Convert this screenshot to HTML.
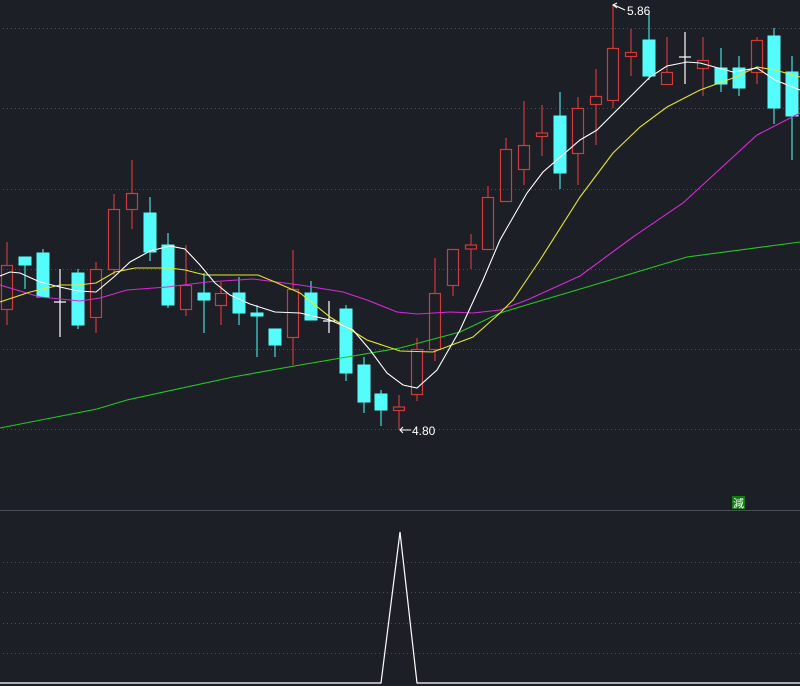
<!DOCTYPE html>
<html><head><meta charset="utf-8"><style>
html,body{margin:0;padding:0;background:#1d1f26;}
svg{display:block}
</style></head><body>
<svg width="800" height="686" viewBox="0 0 800 686" xmlns="http://www.w3.org/2000/svg">
<rect width="800" height="686" fill="#1d1f26"/>
<g stroke="#4a4d55" stroke-width="1" stroke-dasharray="1,3">
<line x1="3" y1="28.5" x2="800" y2="28.5"/>
<line x1="3" y1="108.5" x2="800" y2="108.5"/>
<line x1="3" y1="189.5" x2="800" y2="189.5"/>
<line x1="3" y1="269.5" x2="800" y2="269.5"/>
<line x1="3" y1="349.5" x2="800" y2="349.5"/>
<line x1="3" y1="429.5" x2="800" y2="429.5"/>
<line x1="3" y1="562.5" x2="800" y2="562.5"/>
<line x1="3" y1="592.5" x2="800" y2="592.5"/>
<line x1="3" y1="623.5" x2="800" y2="623.5"/>
<line x1="3" y1="653.5" x2="800" y2="653.5"/>
</g>
<line x1="0" y1="510.5" x2="800" y2="510.5" stroke="#4a4d55" stroke-width="1"/>

<!-- cyan candles -->
<g fill="#54fcfc" stroke="#54fcfc" stroke-width="1">
<line x1="25" y1="257" x2="25" y2="289"/><rect x="19" y="257" width="12" height="8"/>
<line x1="43" y1="249" x2="43" y2="297"/><rect x="37" y="253" width="12" height="44"/>
<line x1="78" y1="269" x2="78" y2="329"/><rect x="72" y="273" width="12" height="52"/>
<line x1="150" y1="197" x2="150" y2="261"/><rect x="144" y="213" width="12" height="39"/>
<line x1="168" y1="233" x2="168" y2="308"/><rect x="162" y="245" width="12" height="60"/>
<line x1="204" y1="273" x2="204" y2="333"/><rect x="198" y="293" width="12" height="7"/>
<line x1="239" y1="277" x2="239" y2="325"/><rect x="233" y="293" width="12" height="20"/>
<line x1="257" y1="305" x2="257" y2="357"/><rect x="251" y="313" width="12" height="3"/>
<line x1="275" y1="329" x2="275" y2="357"/><rect x="269" y="329" width="12" height="16"/>
<line x1="311" y1="281" x2="311" y2="320"/><rect x="305" y="293" width="12" height="27"/>
<line x1="346" y1="305" x2="346" y2="381"/><rect x="340" y="309" width="12" height="64"/>
<line x1="364" y1="357" x2="364" y2="413"/><rect x="358" y="365" width="12" height="37"/>
<line x1="381" y1="390" x2="381" y2="426"/><rect x="375" y="394" width="12" height="16"/>
<line x1="560" y1="92" x2="560" y2="189"/><rect x="554" y="116" width="12" height="57"/>
<line x1="649" y1="13" x2="649" y2="80"/><rect x="643" y="40" width="12" height="36"/>
<line x1="721" y1="48" x2="721" y2="92"/><rect x="715" y="68" width="12" height="16"/>
<line x1="739" y1="56" x2="739" y2="96"/><rect x="733" y="68" width="12" height="20"/>
<line x1="774" y1="28" x2="774" y2="124"/><rect x="768" y="36" width="12" height="72"/>
<line x1="792" y1="56" x2="792" y2="160"/><rect x="786" y="72" width="12" height="44"/>
</g>
<!-- red candles -->
<g fill="none" stroke="#d03a3a" stroke-width="1.2">
<line x1="7" y1="242" x2="7" y2="265"/><line x1="7" y1="309" x2="7" y2="325"/><rect x="1.5" y="265.5" width="11" height="44"/>
<line x1="96" y1="262" x2="96" y2="269"/><line x1="96" y1="317" x2="96" y2="333"/><rect x="90.5" y="269.5" width="11" height="48"/>
<line x1="114" y1="194" x2="114" y2="209"/><line x1="114" y1="269" x2="114" y2="275"/><rect x="108.5" y="209.5" width="11" height="60"/>
<line x1="132" y1="160" x2="132" y2="193"/><line x1="132" y1="209" x2="132" y2="229"/><rect x="126.5" y="193.5" width="11" height="16"/>
<line x1="186" y1="245" x2="186" y2="285"/><line x1="186" y1="309" x2="186" y2="316"/><rect x="180.5" y="285.5" width="11" height="24"/>
<line x1="221" y1="282" x2="221" y2="293"/><line x1="221" y1="305" x2="221" y2="325"/><rect x="215.5" y="293.5" width="11" height="12"/>
<line x1="293" y1="250" x2="293" y2="289"/><line x1="293" y1="337" x2="293" y2="365"/><rect x="287.5" y="289.5" width="11" height="48"/>
<line x1="399" y1="395" x2="399" y2="407"/><line x1="399" y1="410" x2="399" y2="430"/><rect x="393.5" y="407" width="11" height="3.5"/>
<line x1="417" y1="338" x2="417" y2="349"/><line x1="417" y1="394" x2="417" y2="401"/><rect x="411.5" y="349.5" width="11" height="45"/>
<line x1="435" y1="258" x2="435" y2="293"/><line x1="435" y1="349" x2="435" y2="361"/><rect x="429.5" y="293.5" width="11" height="56"/>
<line x1="453" y1="249" x2="453" y2="249"/><line x1="453" y1="285" x2="453" y2="296"/><rect x="447.5" y="249.5" width="11" height="36"/>
<line x1="471" y1="234" x2="471" y2="245"/><line x1="471" y1="249" x2="471" y2="269"/><rect x="465.5" y="245" width="11" height="4"/>
<line x1="488" y1="186" x2="488" y2="197"/><rect x="482.5" y="197.5" width="11" height="52"/>
<line x1="506" y1="138" x2="506" y2="149"/><line x1="506" y1="201" x2="506" y2="201"/><rect x="500.5" y="149.5" width="11" height="52"/>
<line x1="524" y1="101" x2="524" y2="145"/><line x1="524" y1="169" x2="524" y2="185"/><rect x="518.5" y="145.5" width="11" height="24"/>
<line x1="542" y1="105" x2="542" y2="133"/><line x1="542" y1="136" x2="542" y2="156"/><rect x="536.5" y="133" width="11" height="3.5"/>
<line x1="578" y1="97" x2="578" y2="108"/><line x1="578" y1="153" x2="578" y2="185"/><rect x="572.5" y="108.5" width="11" height="45"/>
<line x1="596" y1="69" x2="596" y2="96"/><line x1="596" y1="104" x2="596" y2="145"/><rect x="590.5" y="96.5" width="11" height="8"/>
<line x1="613" y1="5" x2="613" y2="48"/><line x1="613" y1="100" x2="613" y2="108"/><rect x="607.5" y="48.5" width="11" height="52"/>
<line x1="631" y1="29" x2="631" y2="52"/><line x1="631" y1="56" x2="631" y2="76"/><rect x="625.5" y="52.5" width="11" height="4"/>
<line x1="667" y1="37" x2="667" y2="72"/><rect x="661.5" y="72.5" width="11" height="12"/>
<line x1="703" y1="37" x2="703" y2="60"/><line x1="703" y1="68" x2="703" y2="96"/><rect x="697.5" y="60.5" width="11" height="8"/>
<line x1="757" y1="37" x2="757" y2="40"/><line x1="757" y1="72" x2="757" y2="84"/><rect x="751.5" y="40.5" width="11" height="32"/>
</g>
<!-- doji crosses -->
<g stroke="#ffffff" stroke-width="1.2">
<line x1="60" y1="269" x2="60" y2="337"/><line x1="54" y1="302" x2="66" y2="302"/>
<line x1="329" y1="301" x2="329" y2="333"/><line x1="323" y1="321" x2="335" y2="321"/>
<line x1="685" y1="32" x2="685" y2="84"/><line x1="679" y1="57" x2="691" y2="57"/>
</g>
<!-- MAs -->
<g fill="none" stroke-width="1.1">
<polyline stroke="#22c922" points="0,428 97,409 127,400 233,377 300,365 400,348 460,332 500,313 543,300 587,287 687,257 800,242"/>
<polyline stroke="#d62ad6" points="0,285 40,297 80,301 100,298 127,290 167,287 207,282 253,279 300,285 343,292 367,300 397,312 417,314 450,312 473,313 500,310 527,300 580,276 633,237 683,203 757,135 800,113"/>
<polyline stroke="#e6e62a" points="0,302 30,292 60,285 78,285 96,283 115,272 135,268 170,268 185,270 205,275 258,275 275,282 300,293 330,317 367,340 400,351 433,352 457,343 473,337 500,313 513,300 540,260 580,197 613,153 640,127 667,107 700,90 733,78 757,67 775,70 800,77"/>
<polyline stroke="#ffffff" points="0,276 10,272 20,273 40,282 60,287 78,291 96,292 115,276 130,262 150,251 170,246 185,249 200,265 215,283 230,295 250,304 275,312 300,313 330,320 353,330 370,350 387,373 403,385 417,388 437,370 460,330 483,280 500,240 527,193 543,172 580,140 597,130 617,110 650,77 667,66 687,62 700,63 733,72 757,68 775,80 800,90"/>
</g>
<!-- labels -->
<g stroke="#ffffff" stroke-width="1" fill="none">
<polyline points="614,5 625,10"/><polyline points="617,3 613,5 617,8"/>
<polyline points="400,430 411,430"/><polyline points="403,427 400,430 403,433"/>
</g>
<text x="627" y="15" fill="#ffffff" font-family="Liberation Sans, sans-serif" font-size="12">5.86</text>
<text x="412" y="435" fill="#ffffff" font-family="Liberation Sans, sans-serif" font-size="12">4.80</text>
<rect x="732" y="496" width="13" height="13" fill="#157a15"/>
<text x="733" y="507" fill="#ffffff" font-family="Noto Sans CJK SC, sans-serif" font-size="11">減</text>
<polyline fill="none" stroke="#ffffff" stroke-width="1.2" points="0,683 381,683 400,532 417,683 800,683"/>
</svg>
</body></html>
